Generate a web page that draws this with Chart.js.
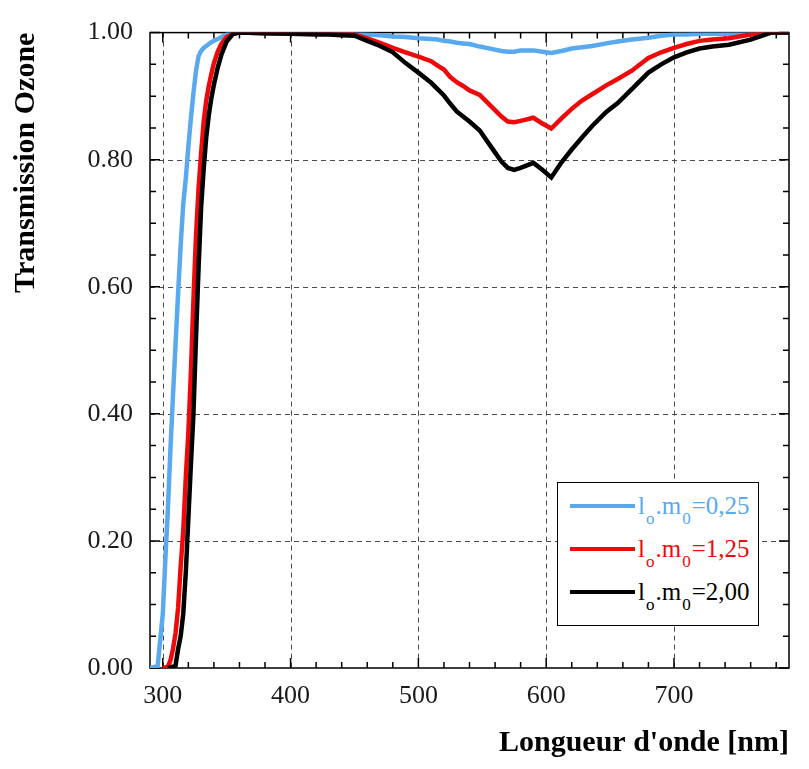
<!DOCTYPE html>
<html><head><meta charset="utf-8">
<script src="https://cdn.jsdelivr.net/npm/chart.js@4.4.1/dist/chart.umd.min.js"></script>
<style>
html,body{margin:0;padding:0;background:#fff;}
#wrap{position:relative;width:809px;height:769px;}
#legend{position:absolute;left:557px;top:482px;width:200px;height:142px;border:1.5px solid #000;background:#fff;font-family:"Liberation Serif","DejaVu Serif",serif;font-size:25px;}
.row{position:absolute;left:12px;height:30px;white-space:nowrap;line-height:30px;}
.sw{display:inline-block;width:65px;height:4px;margin-right:3px;vertical-align:middle;}
.txt{display:inline-block;vertical-align:middle;line-height:30px;}
.txt sub{font-size:17px;vertical-align:-10px;line-height:0;margin:0 1px;}
</style></head><body>
<div id="wrap"><canvas id="c" width="809" height="769"></canvas><div id="legend"></div></div>
<script>
// wavelengths (nm)
const wl = [290,296,300,302,304,306,308,310,312,314,316,318,320,322,324,326,328,330,332,334,
  336,338,340,343,346,350,355,360,380,400,420,430,440,450,460,470,480,490,500,510,
  515,520,525,530,535,540,548,558,565,570,575,580,590,597,604,612,620,628,636,647,
  656,667,680,690,700,710,720,730,743,760,776,790];
// l_o.m_0 = 0,25
const serie025 = [0,0.003,0.085,0.17,0.25,0.345,0.43,0.51,0.59,0.665,0.73,0.77,0.82,0.865,0.905,0.94,0.963,0.971,0.976,0.979,
  0.982,0.985,0.987,0.990,0.993,0.997,0.999,1.0,1.0,1.0,1.0,1.0,0.999,0.998,0.997,0.996,0.994,0.993,0.991,0.990,
  0.989,0.987,0.986,0.984,0.983,0.982,0.978,0.974,0.971,0.970,0.970,0.972,0.972,0.970,0.968,0.971,0.975,0.977,0.979,0.983,
  0.986,0.989,0.992,0.995,0.997,0.997,0.998,0.998,0.998,0.999,1.0,1.0];
// l_o.m_0 = 1,25
const serie125 = [null,null,0,0.001,0.002,0.012,0.03,0.055,0.095,0.16,0.215,0.30,0.37,0.465,0.58,0.68,0.755,0.81,0.86,0.893,
  0.916,0.935,0.952,0.970,0.983,0.993,0.998,1.0,0.999,0.999,0.999,0.998,0.998,0.997,0.991,0.984,0.976,0.969,0.962,0.955,
  0.948,0.942,0.930,0.922,0.916,0.909,0.902,0.882,0.868,0.860,0.859,0.861,0.866,0.857,0.849,0.865,0.880,0.893,0.903,0.917,
  0.927,0.940,0.960,0.969,0.976,0.982,0.987,0.989,0.991,0.997,1.0,1.0];
// l_o.m_0 = 2,00
const serie200 = [null,null,null,null,0,0.001,0.002,0.004,0.03,0.05,0.085,0.15,0.235,0.32,0.40,0.52,0.63,0.725,0.785,0.835,
  0.87,0.897,0.918,0.945,0.966,0.986,0.998,1.0,0.999,0.998,0.997,0.997,0.996,0.995,0.987,0.979,0.969,0.952,0.937,0.921,
  0.911,0.901,0.888,0.876,0.868,0.860,0.846,0.817,0.797,0.787,0.784,0.787,0.795,0.784,0.772,0.796,0.816,0.835,0.853,0.875,
  0.889,0.911,0.937,0.950,0.961,0.969,0.975,0.978,0.981,0.989,1.0,1.0];
const seriesLabels = ['0,25','1,25','2,00'];
const seriesColors = ['#59a9ef','#ee0a0a','#000000'];
const xTicks = [300,400,500,600,700];
const yTicks = [0,0.2,0.4,0.6,0.8,1.0];
const xTitle = "Longueur d'onde [nm]";
const yTitle = 'Transmission Ozone';

const serif = '"Liberation Serif","DejaVu Serif",serif';
const allSeries = [serie025, serie125, serie200];

const framePlugin = {
  id: 'frame',
  beforeDatasetsDraw(chart) {
    const {ctx, chartArea: a, scales: {x, y}} = chart;
    ctx.save();
    ctx.strokeStyle = '#4a4a4a'; ctx.lineWidth = 1; ctx.setLineDash([5, 4]);
    xTicks.forEach(v => { const p = Math.round(x.getPixelForValue(v)) + 0.5;
      ctx.beginPath(); ctx.moveTo(p, a.top); ctx.lineTo(p, a.bottom); ctx.stroke(); });
    yTicks.slice(1, -1).forEach(v => { const p = Math.round(y.getPixelForValue(v)) + 0.5;
      ctx.beginPath(); ctx.moveTo(a.left, p); ctx.lineTo(a.right, p); ctx.stroke(); });
    ctx.setLineDash([]);
    ctx.strokeStyle = '#000'; ctx.lineWidth = 1.5;
    for (let v = 300; v <= 780; v += 20) {
      const p = x.getPixelForValue(v); const len = (v % 100 === 0) ? 10 : 6;
      ctx.beginPath(); ctx.moveTo(p, a.bottom); ctx.lineTo(p, a.bottom - len);
      ctx.moveTo(p, a.top); ctx.lineTo(p, a.top + len); ctx.stroke();
    }
    for (let i = 0; i <= 20; i++) {
      const v = i * 0.05; const p = y.getPixelForValue(v); const len = (i % 4 === 0) ? 10 : 6;
      ctx.beginPath(); ctx.moveTo(a.left, p); ctx.lineTo(a.left + len, p);
      ctx.moveTo(a.right, p); ctx.lineTo(a.right - len, p); ctx.stroke();
    }
    ctx.strokeRect(a.left, a.top, a.right - a.left, a.bottom - a.top);
    ctx.restore();
  }
};

new Chart(document.getElementById('c'), {
  type: 'line',
  data: {
    datasets: allSeries.map((s, i) => ({
      label: seriesLabels[i],
      data: wl.map((w, k) => ({x: w, y: s[k]})),
      borderColor: seriesColors[i],
      borderWidth: 4.5,
      pointRadius: 0,
      tension: 0,
      fill: false,
      order: 3 - i
    }))
  },
  options: {
    responsive: false,
    animation: false,
    layout: {padding: {top: 30, right: 20, left: 0, bottom: 0}},
    plugins: {legend: {display: false}, tooltip: {enabled: false}},
    scales: {
      x: {
        type: 'linear', min: 290, max: 790,
        afterBuildTicks: s => { s.ticks = xTicks.map(v => ({value: v})); },
        afterFit: s => { s.height = 101; },
        grid: {display: false, drawTicks: false}, border: {display: false},
        ticks: {padding: 13, color: '#1a1a1a', font: {family: serif, size: 26}, callback: v => String(v), maxRotation: 0},
        title: {display: true, text: xTitle, align: 'end', color: '#000', font: {family: serif, size: 30, weight: 'bold'}, padding: {bottom: 8, top: 0}}
      },
      y: {
        type: 'linear', min: 0, max: 1,
        afterBuildTicks: s => { s.ticks = yTicks.map(v => ({value: v})); },
        afterFit: s => { s.width = 150; },
        grid: {display: false, drawTicks: false}, border: {display: false},
        ticks: {padding: 17, color: '#1a1a1a', font: {family: serif, size: 26}, callback: v => Number(v).toFixed(2)},
        title: {display: true, text: yTitle, align: 'end', color: '#000', font: {family: serif, size: 30, weight: 'bold'}, padding: {top: 8, bottom: 0}}
      }
    }
  },
  plugins: [framePlugin]
});

// legend (real text with subscripts)
const leg = document.getElementById('legend');
const rowTops = [6, 49, 92];
seriesLabels.forEach((lab, i) => {
  const r = document.createElement('div');
  r.className = 'row';
  r.style.top = rowTops[i] + 'px';
  r.style.color = seriesColors[i];
  r.innerHTML = '<span class="sw" style="background:' + seriesColors[i] + '"></span><span class="txt">l<sub>o</sub>.m<sub>0</sub>=' + lab + '</span>';
  leg.appendChild(r);
});
</script>
</body></html>
